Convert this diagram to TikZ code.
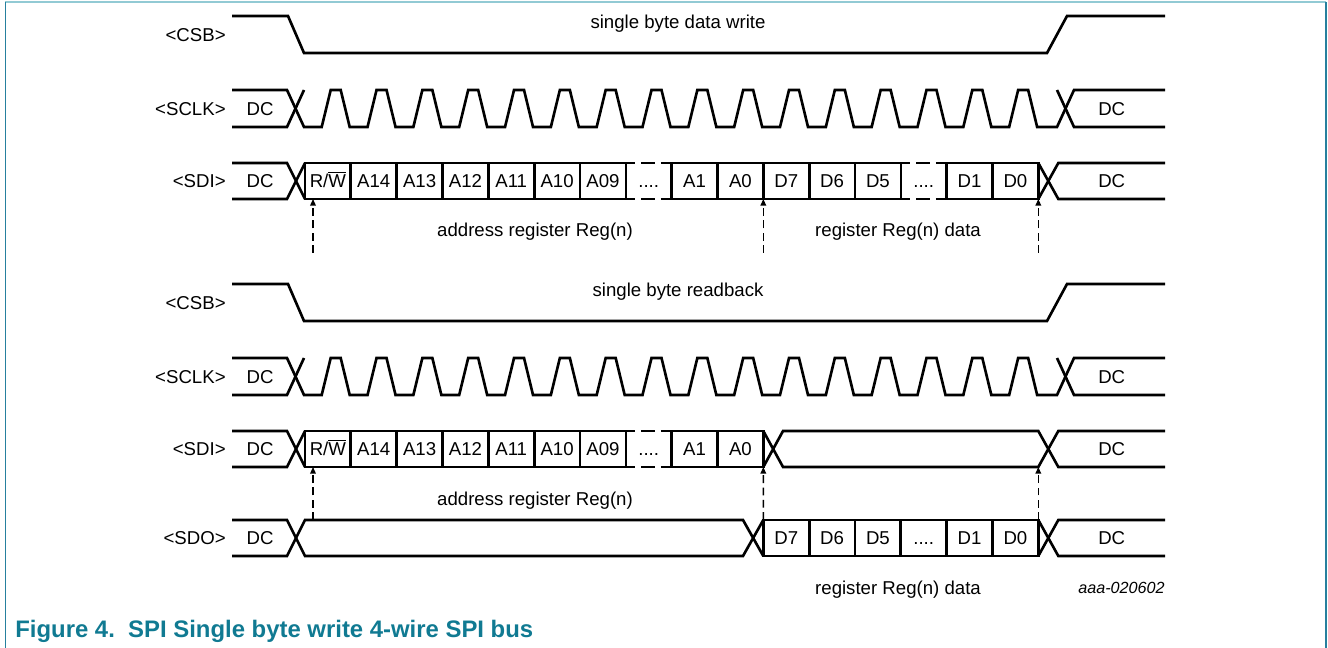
\documentclass[tikz,border=0pt]{standalone}
\usepackage{fontspec}
\setmainfont{Liberation Sans}
\usetikzlibrary{arrows.meta, positioning, calc}
\definecolor{framedark}{RGB}{38,128,158}
\definecolor{framelight}{RGB}{146,202,212}
\definecolor{capteal}{RGB}{16,122,146}

\tikzset{
  sig/.style={line width=1.5pt, line join=miter},
  lbl/.style={font=\fontsize{10.6}{12}\selectfont, inner sep=0pt, text height=7.6pt, text depth=0pt},
  cell/.style={lbl, draw, line width=1.5pt, outer sep=0pt, minimum width=0.9166cm, minimum height=0.72cm},
  txt/.style={font=\fontsize{10.6}{12}\selectfont, inner sep=0pt, anchor=base},
  gapline/.style={line width=1.5pt, dash pattern=on 5.5pt off 3.2pt on 8pt off 3.2pt on 6pt off 10pt},
  dasharr/.style={line width=0.8pt, dash pattern=on 4.5pt off 2.5pt, -{Triangle[length=3.8pt, width=3.2pt]}}
}

\begin{document}
\begin{tikzpicture}[x=0.02cm, y=-0.02cm]
  \useasboundingbox (0,0) rectangle (1328,648);
  % Frame
  \draw[framelight, line width=0.8pt] (5,2.2) -- (1326,2.2);
  \draw[framedark, line width=1pt] (5.5,2) -- (5.5,648);
  \draw[framedark, line width=1.3pt] (1326,2) -- (1326,648);

  % Write: CSB
  \node[lbl, anchor=east] (csbA) at (226,35) {<CSB>};
  \draw[sig] (232,16) -- (288,16) -- (304,53) -- (1047,53) -- (1067,16) -- (1165,16);
  \node[txt] (writeA) at (678,29) {single byte data write};

  % Write: SCLK
  \node[lbl, anchor=east] (sclkA) at (226,108.5) {<SCLK>};
  \node[lbl] (sclkdcA) at (260,108.5) {DC};
  \node[lbl] (sclkdcA2) at (1111.7,108.5) {DC};
  \draw[sig] (232,90) -- (287,90) -- (304,127) -- (321.7,127)
    \foreach \k in {1,...,16} { -- ++(9,-37) -- ++(10,0) -- ++(9,37) -- ++(17.83,0) }
    -- (1057,127) -- (1074,90) -- (1165,90);
  \draw[sig] (232,127) -- (287,127) -- (304,90);
  \draw[sig] (1057,90) -- (1074,127) -- (1165,127);

  % Write: SDI
  \node[lbl, anchor=east] (sdiA) at (226,181) {<SDI>};
  \node[lbl] (sdidcA) at (260,181) {DC};
  \node[lbl] (sdidcA2) at (1111.7,181) {DC};
  \draw[sig] (232,163) -- (287,163) -- (305,199);
  \draw[sig] (232,199) -- (287,199) -- (305,163);
  \node[cell] (rwA) at (327.9,181) {R/$\overline{\mbox{W}}$};
  \node[cell] (a14A) at (373.7,181) {A14};
  \node[cell] (a13A) at (419.6,181) {A13};
  \node[cell] (a12A) at (465.4,181) {A12};
  \node[cell] (a11A) at (511.2,181) {A11};
  \node[cell] (a10A) at (557.1,181) {A10};
  \node[cell] (a09A) at (602.9,181) {A09};
  \draw[gapline] (a09A.north east) -- ++(45.83,0);
  \draw[gapline] (a09A.south east) -- ++(45.83,0);
  \node[lbl] (adotsA) at (648.7,181) {....};
  \node[cell] (a1A) at (694.6,181) {A1};
  \node[cell] (a0A) at (740.4,181) {A0};
  \node[cell] (d7A) at (786.2,181) {D7};
  \node[cell] (d6A) at (832.1,181) {D6};
  \node[cell] (d5A) at (877.9,181) {D5};
  \draw[gapline] (d5A.north east) -- ++(45.83,0);
  \draw[gapline] (d5A.south east) -- ++(45.83,0);
  \node[lbl] (ddotsA) at (923.7,181) {....};
  \node[cell] (d1A) at (969.6,181) {D1};
  \node[cell] (d0A) at (1015.4,181) {D0};
  \draw[sig] (d0A.north east) -- (1058.3,199) -- (1165,199);
  \draw[sig] (d0A.south east) -- (1058.3,163) -- (1165,163);

  % Write: markers
  \coordinate (rwfootA) at (313,253);
  \coordinate (a0footA) at (a0A.south east |- rwfootA);
  \coordinate (d0footA) at (d0A.south east |- rwfootA);
  \draw[dasharr] (rwfootA) -- (rwfootA |- rwA.south);
  \draw[dasharr] (a0footA) -- (a0A.south east);
  \draw[dasharr] (d0footA) -- (d0A.south east);
  \node[txt] (adrA) at (535,237) {address register Reg(n)};
  \node[txt] (datA) at (898,237) {register Reg(n) data};

  % Readback: CSB
  \node[lbl, anchor=east] (csbB) at (226,303) {<CSB>};
  \draw[sig] (232,284) -- (288,284) -- (304,321) -- (1047,321) -- (1067,284) -- (1165,284);
  \node[txt] (readB) at (678,297) {single byte readback};

  % Readback: SCLK
  \node[lbl, anchor=east] (sclkB) at (226,376.5) {<SCLK>};
  \node[lbl] (sclkdcB) at (260,376.5) {DC};
  \node[lbl] (sclkdcB2) at (1111.7,376.5) {DC};
  \draw[sig] (232,358) -- (287,358) -- (304,395) -- (321.7,395)
    \foreach \k in {1,...,16} { -- ++(9,-37) -- ++(10,0) -- ++(9,37) -- ++(17.83,0) }
    -- (1057,395) -- (1074,358) -- (1165,358);
  \draw[sig] (232,395) -- (287,395) -- (304,358);
  \draw[sig] (1057,358) -- (1074,395) -- (1165,395);

  % Readback: SDI
  \node[lbl, anchor=east] (sdiB) at (226,449) {<SDI>};
  \node[lbl] (sdidcB) at (260,449) {DC};
  \node[lbl] (sdidcB2) at (1111.7,449) {DC};
  \draw[sig] (232,431) -- (287,431) -- (305,467);
  \draw[sig] (232,467) -- (287,467) -- (305,431);
  \node[cell] (rwB) at (327.9,449) {R/$\overline{\mbox{W}}$};
  \node[cell] (a14B) at (373.7,449) {A14};
  \node[cell] (a13B) at (419.6,449) {A13};
  \node[cell] (a12B) at (465.4,449) {A12};
  \node[cell] (a11B) at (511.2,449) {A11};
  \node[cell] (a10B) at (557.1,449) {A10};
  \node[cell] (a09B) at (602.9,449) {A09};
  \draw[gapline] (a09B.north east) -- ++(45.83,0);
  \draw[gapline] (a09B.south east) -- ++(45.83,0);
  \node[lbl] (adotsB) at (648.7,449) {....};
  \node[cell] (a1B) at (694.6,449) {A1};
  \node[cell] (a0B) at (740.4,449) {A0};
  \draw[sig] (a0B.north east) -- (783,467) -- (1038.3,467) -- (1058.3,431) -- (1165,431);
  \draw[sig] (a0B.south east) -- (783,431) -- (1038.3,431) -- (1058.3,467) -- (1165,467);

  % Readback: SDO
  \node[lbl, anchor=east] (sdoB) at (226,538) {<SDO>};
  \node[lbl] (sdodcB) at (260,538) {DC};
  \node[lbl] (sdodcB2) at (1111.7,538) {DC};
  \draw[sig] (232,520) -- (287,520) -- (305,556) -- (743,556) -- (763.3,520);
  \draw[sig] (232,556) -- (287,556) -- (305,520) -- (743,520) -- (763.3,556);
  \node[cell] (d7B) at (786.2,538) {D7};
  \node[cell] (d6B) at (832.1,538) {D6};
  \node[cell] (d5B) at (877.9,538) {D5};
  \node[cell] (ddotsB) at (923.7,538) {....};
  \node[cell] (d1B) at (969.6,538) {D1};
  \node[cell] (d0B) at (1015.4,538) {D0};
  \draw[sig] (d0B.north east) -- (1058.3,556) -- (1165,556);
  \draw[sig] (d0B.south east) -- (1058.3,520) -- (1165,520);

  % Readback: markers
  \coordinate (rwfootB) at (313,520);
  \draw[dasharr] (rwfootB) -- (rwfootB |- rwB.south);
  \draw[dasharr] (d7B.north west) -- (a0B.south east);
  \draw[dasharr] (d0B.north east) -- (d0B.north east |- a0B.south);
  \node[txt] (adrB) at (535,505) {address register Reg(n)};
  \node[txt] (datB) at (898,594) {register Reg(n) data};
  \node[font=\fontsize{9.2}{11}\selectfont\itshape, inner sep=0pt, anchor=base east] (figid) at (1165,593) {aaa-020602};

  % Caption
  \node[font=\fontsize{13.6}{15}\selectfont\bfseries, text=capteal, inner sep=0pt, anchor=base west] (caption) at (15,637) {Figure 4.\ \ SPI Single byte write 4-wire SPI bus};
\end{tikzpicture}
\end{document}
